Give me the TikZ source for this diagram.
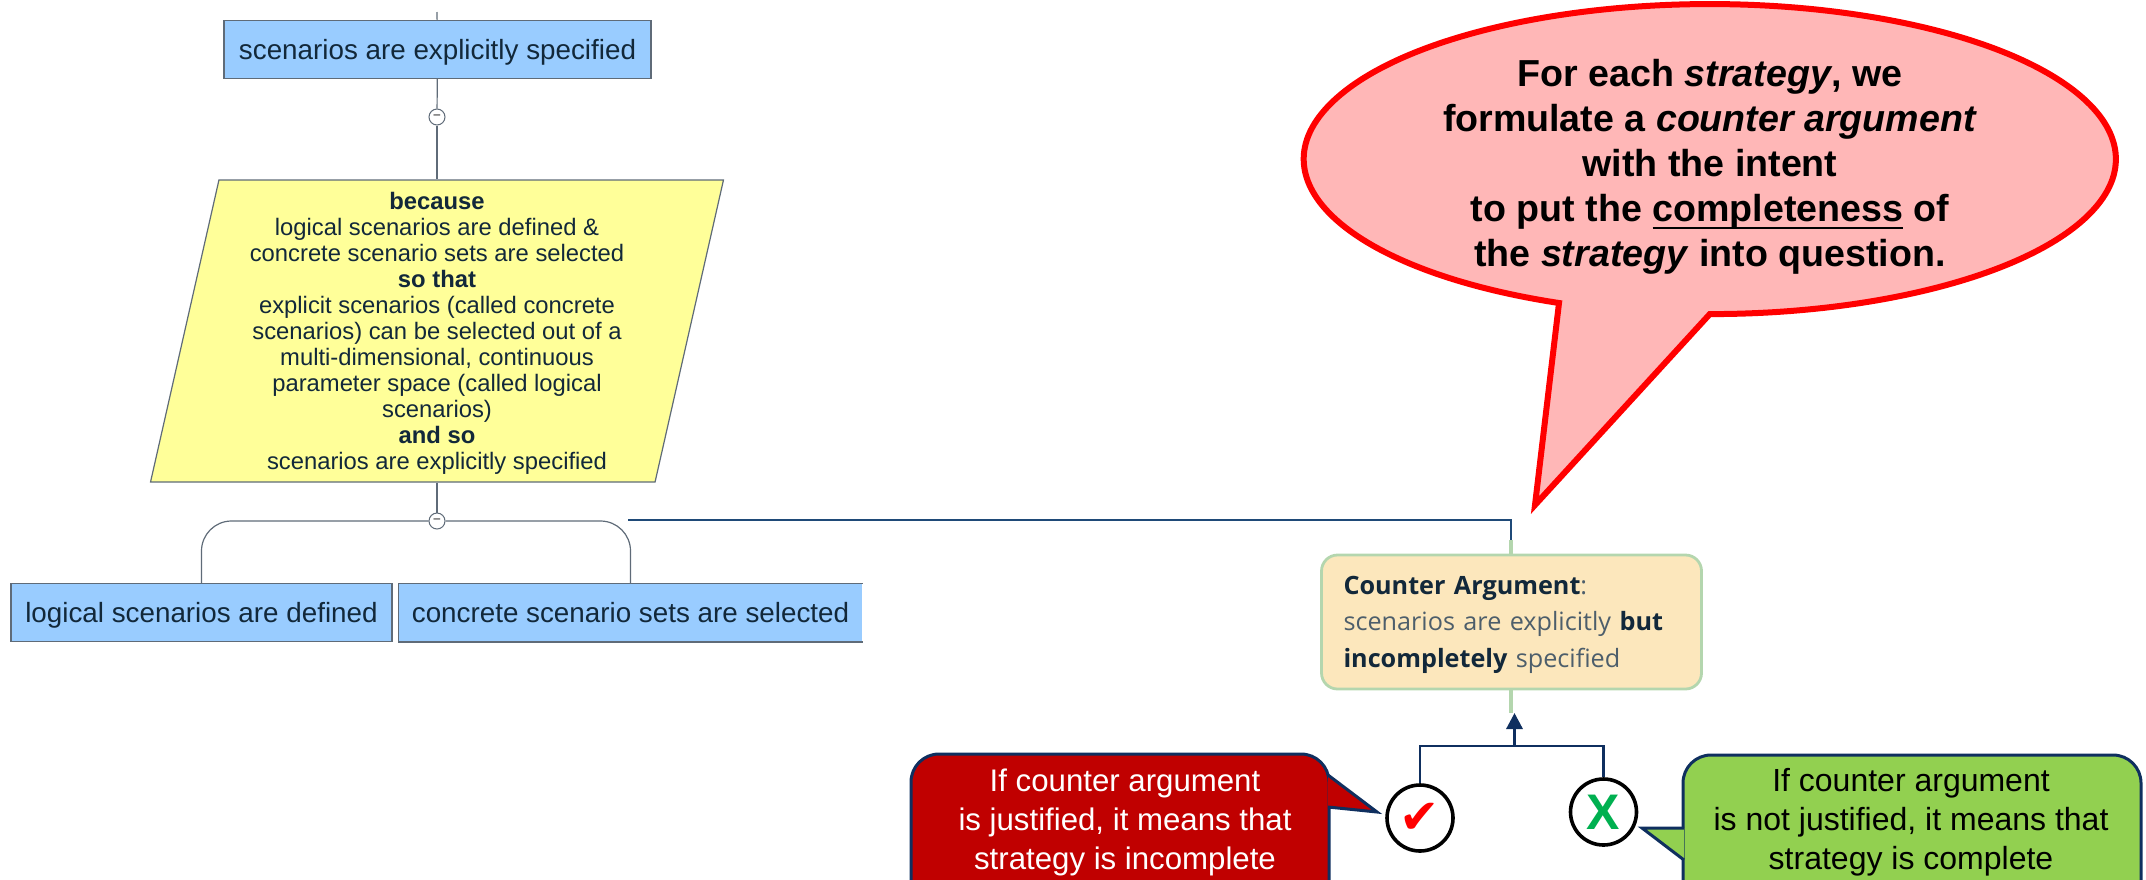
\documentclass[tikz,border=0pt]{standalone}
\usepackage{fontspec}
\setmainfont{Liberation Sans}
\newfontfamily\notefont{Open Sans}
\newfontfamily\symfont{DejaVu Sans}
\usetikzlibrary{arrows.meta,positioning,shapes.geometric}
\definecolor{boxblue}{HTML}{99CCFF}
\definecolor{boxyellow}{HTML}{FFFF99}
\definecolor{boxline}{HTML}{5F6B78}
\definecolor{darktext}{HTML}{12283A}
\definecolor{balloonfill}{HTML}{FFB7B7}
\definecolor{noteline}{HTML}{B4D6AE}
\definecolor{notefill}{HTML}{FCE7BC}
\definecolor{navy}{HTML}{1F4A78}
\definecolor{calloutline}{HTML}{0F2F5F}
\definecolor{darkred}{HTML}{C00000}
\definecolor{leafgreen}{HTML}{92D050}
\definecolor{markgreen}{HTML}{00B050}
\newcommand{\thickunder}[1]{\setbox0\hbox{#1}\rlap{\rule[-3.6pt]{\wd0}{1.2pt}}\box0\relax}
\tikzset{
    %Define standard arrow tip
    >={Stealth[length=8pt,width=8pt,inset=0pt]},
    % Define connector styles
    stem/.style={draw=boxline, line width=0.6pt},
    link/.style={draw=navy, line width=0.8pt},
    pale/.style={draw=noteline, line width=1.6pt},
    fork/.style={draw=calloutline, line width=1.2pt},
}

\begin{document}
\begin{tikzpicture}[
x=0.5pt,y=-0.5pt,
bluebox/.style={rectangle, fill=boxblue, draw=boxline, line width=0.6pt, inner sep=0pt,
    minimum height=28.8pt, text height=11.7pt, text depth=2pt, text=darktext, font=\fontsize{13.9}{16}\selectfont},
toggle/.style={circle, draw=boxline, fill=white, line width=0.5pt, inner sep=0pt,
    minimum size=8pt, font=\fontsize{6}{6}\selectfont},
reason/.style={trapezium, trapezium left angle=78.4, trapezium right angle=101.6, trapezium stretches,
    fill=boxyellow, draw=boxline, line width=0.6pt, inner sep=0pt, minimum width=287pt, minimum height=151pt,
    text=darktext, align=center, font=\fontsize{11.9}{13}\selectfont},
tickmark/.style={circle, draw=black, fill=white, line width=1.8pt, inner sep=0pt, minimum size=33pt},
saytext/.style={align=center, inner sep=0pt},
say/.style={draw=calloutline, line width=1.5pt},
]
\clip (0,0) rectangle (2146,879);
%Nodes
\coordinate (stub) at (437,12);
\node[bluebox, minimum width=213.5pt](top) at (437.5,49.5){scenarios are explicitly specified};
\node[toggle](togA) at (437,117){--};
\node[reason](why) at (437,331){\rule{0pt}{10.6pt}\textbf{because}\\logical scenarios are defined \&\\concrete scenario sets are selected\\
\textbf{so that}\\explicit scenarios (called concrete\\scenarios) can be selected out of a\\multi-dimensional, continuous\\
parameter space (called logical\\scenarios)\\\textbf{and so}\\scenarios are explicitly specified};
\node[toggle](togB) at (437,521){--};
\node[bluebox, minimum width=190.5pt](logical) at (201.5,612.5){logical scenarios are defined};
\node[bluebox, draw=none, minimum width=231.5pt](concrete) at (630.5,612.5){concrete scenario sets are selected};

\coordinate (linkstart) at (628,520);
\coordinate (palestart) at (1511,540);
\node[rectangle, rounded corners=8pt, fill=notefill, draw=noteline, line width=1.4pt, minimum width=190pt, minimum height=67pt,
    text width=168pt, inner sep=0pt, align=left, text=darktext!75, font=\notefont\fontsize{12.6}{18.2}\selectfont](counter) at (1511.5,622)
    {\rule{0pt}{12pt}\textcolor{darktext}{\textbf{Counter Argument}}:\\scenarios are explicitly \textcolor{darktext}{\textbf{but}}\\
    \textcolor{darktext}{\textbf{incompletely}} specified};
\coordinate (paleend) at (1511,713);
\coordinate (tip) at (1514.5,713);
\coordinate (forkmid) at (1514.5,746);

\node[tickmark](yes) at (1420,818){\symfont\fontsize{24}{24}\selectfont\textcolor{red}{✔}};
\node[tickmark](no) at (1603.5,812){\fontsize{25}{25}\selectfont\textcolor{markgreen}{\textbf{X}}};

%Balloons
\draw[red, line width=3pt, fill=balloonfill, line join=miter]
    (1559,303) arc[start angle=111.8, end angle=450, x radius=406, y radius=155] -- (1535,505) -- cycle;
\node[align=center, inner sep=0pt, font=\bfseries\fontsize{18.8}{22.5}\selectfont](ask) at (1710,167)
    {For each \textit{strategy}, we\\formulate a \textit{counter argument}\\with the intent\\
    to put the \thickunder{completeness} of\\the \textit{strategy} into question.};

\draw[say, fill=darkred, rounded corners=14pt] (911,754) rectangle (1329,930);
\draw[say, fill=darkred] (1328,775) -- (1377,812) -- (1328,807);
\node[saytext, text=white, font=\fontsize{15.6}{19.5}\selectfont](sayyes) at (1125,822){If counter argument\\is justified, it means that\\strategy is incomplete};

\draw[say, fill=leafgreen, rounded corners=14pt] (1683,755) rectangle (2141,930);
\draw[say, fill=leafgreen] (1684,828) -- (1642,828) -- (1684,860);
\node[saytext, font=\fontsize{16}{19.5}\selectfont](sayno) at (1911,822){If counter argument\\is not justified, it means that\\strategy is complete};

%Connectors
\path[stem] (stub) -- (top);
\path[stem] (top) -- (togA);
\path[stem] (togA) -- (why.north -| togA);
\path[stem] (why.south -| togB) -- (togB);
\path[stem, rounded corners=15pt] (logical.north) |- (togB);
\path[stem, rounded corners=15pt] (concrete.north) |- (togB);
\draw[boxline, line width=0.6pt] (concrete.north east) -- (concrete.north west) -- (concrete.south west) -- (concrete.south east);
\path[link] (linkstart) -| (palestart);
\path[pale] (palestart) -- (counter.north -| palestart);
\path[pale] (counter.south -| paleend) -- (paleend);
\draw[fork, line width=1.6pt, ->] (forkmid) -- (tip);
\path[fork] (yes.north) |- (forkmid);
\path[fork] (no.north) |- (forkmid);
\end{tikzpicture}
\end{document}
